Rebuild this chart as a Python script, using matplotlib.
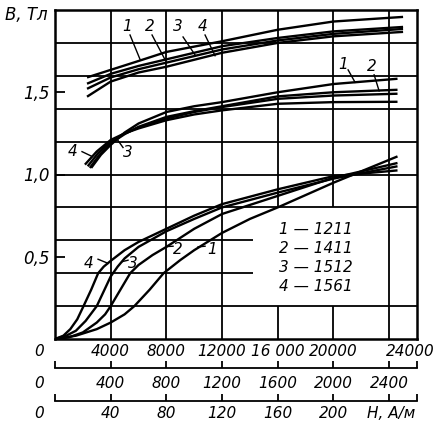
import matplotlib
matplotlib.use("Agg")
import matplotlib.pyplot as plt

# ---------------- data (H in A/m on the main scale, B in T) ----------------
grades = ["1211", "1411", "1512", "1561"]

# upper family
up1_h = [2300, 4000, 6000, 8000, 12000, 16000, 20000, 25000]
up1_b = [1.590, 1.636, 1.690, 1.745, 1.810, 1.880, 1.930, 1.958]
up2_h = [2300, 4000, 6000, 8000, 12000, 16000, 20000, 25000]
up2_b = [1.552, 1.612, 1.660, 1.700, 1.780, 1.830, 1.870, 1.897]
up3_h = [2300, 4000, 6000, 8000, 12000, 16000, 20000, 25000]
up3_b = [1.521, 1.590, 1.640, 1.680, 1.760, 1.815, 1.855, 1.885]
up4_h = [2300, 4000, 6000, 8000, 12000, 16000, 20000, 25000]
up4_b = [1.473, 1.565, 1.620, 1.655, 1.740, 1.800, 1.840, 1.867]

# middle family
mid1_h = [2600, 3300, 4000, 5000, 6000, 8000, 10000, 12000, 16000, 20000, 24600]
mid1_b = [1.040, 1.120, 1.180, 1.255, 1.310, 1.380, 1.415, 1.440, 1.500, 1.550, 1.582]
mid2_h = [2500, 3200, 4000, 5000, 6000, 8000, 10000, 12000, 16000, 20000, 24600]
mid2_b = [1.040, 1.120, 1.190, 1.245, 1.290, 1.350, 1.385, 1.415, 1.475, 1.500, 1.515]
mid3_h = [2350, 3100, 4000, 5000, 6000, 8000, 10000, 12000, 16000, 20000, 24600]
mid3_b = [1.050, 1.130, 1.200, 1.250, 1.285, 1.340, 1.380, 1.410, 1.460, 1.480, 1.491]
mid4_h = [2150, 3000, 4000, 5000, 6000, 8000, 10000, 12000, 16000, 20000, 24600]
mid4_b = [1.060, 1.140, 1.210, 1.250, 1.280, 1.330, 1.365, 1.390, 1.430, 1.440, 1.442]

# lower family
low1_h = [0, 1500, 3000, 4000, 5000, 5700, 6800, 7800, 9000, 10000, 12000, 14000, 16000, 20000, 24600]
low1_b = [0, 0.02, 0.06, 0.10, 0.15, 0.20, 0.30, 0.40, 0.48, 0.54, 0.645, 0.73, 0.80, 0.95, 1.11]
low2_h = [0, 1000, 2000, 3000, 3600, 4000, 4700, 5400, 6000, 7000, 8000, 10000, 12000, 16000, 20000, 24600]
low2_b = [0, 0.01, 0.04, 0.10, 0.15, 0.20, 0.30, 0.40, 0.45, 0.51, 0.56, 0.67, 0.76, 0.87, 0.98, 1.07]
low3_h = [0, 800, 1500, 2200, 3000, 3500, 4000, 4500, 5000, 6000, 8000, 10000, 12000, 16000, 20000, 24600]
low3_b = [0, 0.02, 0.05, 0.11, 0.20, 0.29, 0.38, 0.44, 0.49, 0.56, 0.655, 0.73, 0.80, 0.89, 0.975, 1.05]
low4_h = [0, 600, 1100, 1600, 2050, 2600, 3100, 3500, 4000, 5000, 6000, 8000, 10000, 12000, 16000, 20000, 24600]
low4_b = [0, 0.02, 0.06, 0.12, 0.20, 0.30, 0.40, 0.44, 0.475, 0.54, 0.59, 0.67, 0.75, 0.82, 0.91, 0.99, 1.025]

# scales
top_ticks = [0, 4000, 8000, 12000, 16000, 20000, 24000]
top_labels = ["0", "4000", "8000", "12000", "16 000", "20000", "24000"]
mid_ticks = [0, 400, 800, 1200, 1600, 2000, 2400]
mid_labels = ["0", "400", "800", "1200", "1600", "2000", "2400"]
bot_ticks = [0, 40, 80, 120, 160, 200]
bot_labels = ["0", "40", "80", "120", "160", "200"]
y_ticks = [0.5, 1.0, 1.5]
y_labels = ["0,5", "1,0", "1,5"]

# ---------------- figure ----------------
W, H = 448, 428
fig = plt.figure(figsize=(W / 100, H / 100), dpi=100)
L, R, T, B = 55, 417, 10, 339
ax = fig.add_axes([L / W, 1 - B / H, (R - L) / W, (B - T) / H])
ax.set_xlim(0, 26000)
ax.set_ylim(0, 2.0)

font = dict(family="DejaVu Sans", style="italic", fontsize=11, color="black")
yfont = dict(font, fontsize=12)

# grid with gaps where the legend sits
glw = 1.3
for v in [4000, 8000, 12000, 24000]:
    ax.vlines(v, 0, 2.0, color="black", lw=glw)
for v in [16000, 20000]:
    ax.vlines(v, 0, 0.2, color="black", lw=glw)
    ax.vlines(v, 0.8, 2.0, color="black", lw=glw)
for v in [0.2, 0.8, 1.0, 1.2, 1.4, 1.6, 1.8]:
    ax.hlines(v, 0, 26000, color="black", lw=glw)
for v in [0.4, 0.6]:
    ax.hlines(v, 0, 14200, color="black", lw=glw)

clw = 1.7
for h, b in [(up1_h, up1_b), (up2_h, up2_b), (up3_h, up3_b), (up4_h, up4_b),
             (mid1_h, mid1_b), (mid2_h, mid2_b), (mid3_h, mid3_b), (mid4_h, mid4_b),
             (low1_h, low1_b), (low2_h, low2_b), (low3_h, low3_b), (low4_h, low4_b)]:
    ax.plot(h, b, color="black", lw=clw, solid_joinstyle="round", solid_capstyle="butt")

for s in ax.spines.values():
    s.set_linewidth(1.8)

ax.set_xticks([])
ax.set_yticks(y_ticks)
ax.set_yticklabels(y_labels, **yfont)
ax.tick_params(axis="y", direction="in", length=7, width=1.3, pad=4)
ax.tick_params(axis="x", length=0)

# main x labels
offs = {0: -16, 6: 21}
for i, (v, lab) in enumerate(zip(top_ticks, top_labels)):
    ax.annotate(lab, xy=(v, 0), xycoords=("data", "axes fraction"),
                xytext=(offs.get(i, 0), -12), textcoords="offset pixels",
                ha="center", va="center", **font)

# curve labels with leader lines
def lab(txt, tx, ty, x0, y0, x1, y1):
    ax.text(tx, ty, txt, ha="center", va="center", **font)
    ax.plot([x0, x1], [y0, y1], color="black", lw=1.0)

lab("1", 5173, 1.897, 5389, 1.848, 6107, 1.700)
lab("2", 6826, 1.897, 6970, 1.848, 7904, 1.698)
lab("3", 8838, 1.897, 9197, 1.836, 10059, 1.727)
lab("4", 10634, 1.897, 10778, 1.848, 11496, 1.722)
lab("1", 20693, 1.667, 21052, 1.636, 21555, 1.560)
lab("2", 22776, 1.655, 22920, 1.606, 23280, 1.508)
lab("4", 1293, 1.139, 1940, 1.139, 2658, 1.110)
lab("3", 5245, 1.133, 4886, 1.164, 4455, 1.215)
lab("4", 2443, 0.461, 3090, 0.485, 3808, 0.46)
lab("3", 5604, 0.461, 5245, 0.479, 4814, 0.47)
lab("2", 8838, 0.545, 8478, 0.564, 8047, 0.562)
lab("1", 11280, 0.545, 10778, 0.564, 10275, 0.56)

# legend text
for i, g in enumerate(grades):
    ax.text(16100, 0.668 - i * 0.117, f"{i + 1} — {g}", ha="left", va="center", **font)

# axis title
fig.text(5 / W, 1 - 15 / H, "В, Тл", ha="left", va="center", **yfont)

# secondary scales
def scale(ypx, xmax, ticks, labels, lab_dy=-15):
    a = fig.add_axes([L / W, 1 - ypx / H, (R - L) / W, 0.0001])
    a.set_xlim(0, xmax)
    a.set_ylim(0, 1)
    a.patch.set_visible(False)
    for k in ["top", "left", "right"]:
        a.spines[k].set_visible(False)
    a.spines["bottom"].set_linewidth(1.3)
    a.set_yticks([])
    a.set_xticks(list(ticks) + [xmax])
    a.set_xticklabels([])
    a.tick_params(axis="x", direction="in", length=5, width=1.3)
    for i, (v, lb) in enumerate(zip(ticks, labels)):
        dx = -16 if i == 0 else 0
        a.annotate(lb, xy=(v, 0), xycoords=("data", "axes fraction"),
                   xytext=(dx, lab_dy), textcoords="offset pixels",
                   ha="center", va="center", **font)
    return a

scale(368, 2600, mid_ticks, mid_labels)
ab = scale(401, 260, bot_ticks + [240], bot_labels + [""], lab_dy=-13)
ab.annotate("Н, А/м", xy=(240, 0), xycoords=("data", "axes fraction"),
            xytext=(2, -13), textcoords="offset pixels", ha="center", va="center", **font)

fig.savefig("out.png", dpi=100, facecolor="white")
